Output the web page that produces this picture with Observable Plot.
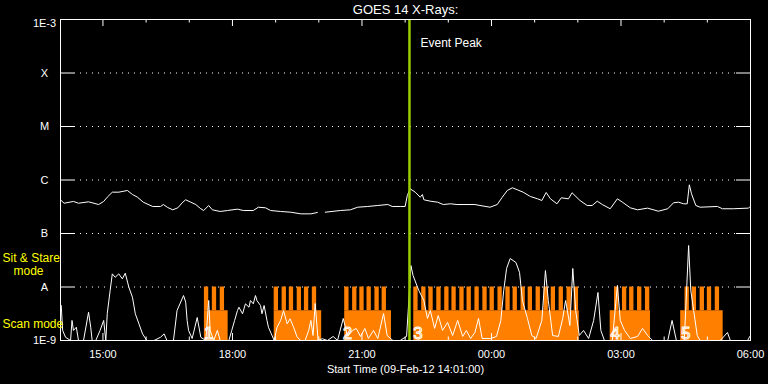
<!DOCTYPE html>
<html><head><meta charset="utf-8">
<script src="https://cdn.jsdelivr.net/npm/d3@7"></script>
<script src="https://cdn.jsdelivr.net/npm/@observablehq/plot@0.6"></script>
<style>html,body{margin:0;padding:0;background:#000;}</style>
</head><body><div id="chart"></div>
<script>
// ---------- data ----------
const title = "GOES 14 X-Rays:";
const caption = "Start Time (09-Feb-12 14:01:00)";
const startTime = "2012-02-09T14:01:00Z";
const endTime = "2012-02-10T06:00:00Z";
const eventPeakTime = "22:06";
const eventLabel = "Event Peak";

const levelValues = [1e-4, 1e-5, 1e-6, 1e-7, 1e-8, 1e-9];
const levelLabels = ["X", "M", "C", "B", "A", "1E-9"];
const topLevelValue = [1e-3];
const topLevelLabel = ["1E-3"];
const gridLevels = [1e-4, 1e-5, 1e-6, 1e-7, 1e-8];

const majorTickTimes = ["15:00", "18:00", "21:00", "00:00", "03:00", "06:00"];
const minorTickTimes = ["16:00", "17:00", "19:00", "20:00", "22:00", "23:00", "01:00", "02:00", "04:00", "05:00"];

// GOES long channel (1-8 A), units of 1e-7 W/m^2 (null = data gap)
const longTimes = [
  "14:02","14:06","14:19","14:26","14:40","14:54",
  "15:01","15:06","15:13","15:22","15:34","15:41","15:48","15:56",
  "16:09","16:20","16:24","16:30","16:37","16:44","16:51","16:55",
  "17:02","17:09","17:16","17:20","17:27","17:32","17:43","17:53",
  "18:07","18:15","18:29","18:36","18:46","18:53",
  "19:07","19:21","19:35","19:49","19:58",
  "20:03","20:09","20:30","20:44","20:54",
  "21:08","21:22","21:36","21:42","21:54",
  "22:00","22:03","22:07","22:14","22:21","22:24","22:26","22:35","22:45","22:53",
  "23:03","23:12","23:26","23:37","23:44","23:58",
  "00:08","00:15","00:22","00:29","00:36","00:44","00:54",
  "01:04","01:10","01:16","01:22","01:31","01:37","01:47","01:52",
  "02:03","02:13","02:20","02:27","02:34","02:45","02:55",
  "03:02","03:13","03:23","03:37","03:52",
  "04:05","04:13","04:20","04:27","04:32","04:35","04:38","04:44","04:50",
  "05:14","05:21","05:36","05:57",
  "06:00"];
const longFlux = [
  4.14,3.68,3.97,3.68,3.91,3.48,
  3.97,4.77,5.92,5.92,6.37,5.36,4.77,3.85,
  3.20,3.20,3.48,3.06,2.77,3.02,3.85,4.27,
  3.85,3.48,2.90,2.69,3.34,2.77,2.58,2.69,
  2.85,2.69,2.69,3.10,3.02,2.69,
  2.58,2.50,2.33,2.33,2.47,
  null,2.50,2.69,2.77,3.10,
  3.20,3.34,3.48,3.20,3.20,
  3.20,5.13,6.85,5.92,4.77,5.36,4.27,4.02,3.85,3.48,
  3.59,3.48,3.48,3.48,3.34,3.10,
  3.48,4.77,6.37,7.15,6.56,5.92,4.92,
  4.45,4.14,5.84,4.45,3.59,4.65,4.45,5.77,
  4.14,3.34,3.34,4.02,3.48,2.90,4.45,
  3.85,3.02,2.77,2.98,2.61,
  2.90,3.75,3.85,3.59,3.59,8.14,5.52,3.34,3.10,
  3.20,2.90,2.90,2.98,
  3.20];

// GOES short channel (0.5-4 A), units of 1e-9 W/m^2
const shortTimes = [
  "14:02","14:04","14:08","14:15","14:17","14:19","14:23","14:26","14:33","14:40","14:43","14:45","14:50","14:56",
  "15:01","15:04","15:06","15:10","15:13","15:17","15:22","15:27","15:31","15:36","15:41","15:45","15:50","15:55",
  "16:01","16:11","16:20","16:25","16:29","16:38","16:43","16:52","16:55","16:57","16:59",
  "17:04","17:11","17:16","17:23","17:27","17:29","17:34","17:39","17:43","17:50","17:55","17:59",
  "18:03","18:07","18:09","18:14","18:18","18:23","18:25","18:29","18:32","18:34","18:39","18:41","18:44","18:48","18:50","18:54","18:58",
  "19:02","19:07","19:11","19:16","19:20","19:25","19:30","19:35","19:41","19:46","19:49","19:52","19:55","19:59",
  "20:05","20:12","20:20","20:26","20:34","20:40","20:47","20:52","20:58",
  "21:04","21:09","21:16","21:22","21:30","21:35","21:43","21:53",
  "22:02","22:06","22:08","22:11","22:19","22:26","22:31","22:35","22:41","22:46","22:52","22:59",
  "23:06","23:13","23:20","23:25","23:31","23:37","23:42","23:47","23:59",
  "00:07","00:13","00:17","00:21","00:26","00:34","00:39","00:43","00:50","00:56",
  "01:02","01:10","01:15","01:19","01:25","01:33","01:39","01:43","01:49","01:53","01:57",
  "02:02","02:08","02:15","02:22","02:28","02:32","02:37","02:48","02:55","02:59",
  "03:05","03:13","03:23","03:30","03:37","03:44",
  "04:05","04:11","04:17","04:28","04:34","04:37","04:41","04:46","04:50",
  "05:04","05:18","05:28","05:32","05:56","05:59"];
const shortFlux = [
  4.51,1.54,1.15,1.0,2.37,1.54,1.77,1.0,1.0,3.38,1.77,1.0,1.0,1.54,
  2.37,1.0,3.20,8.60,17.6,15.2,17.6,14.2,18.1,9.91,6.45,3.16,2.05,1.33,
  1.0,1.0,1.15,1.33,1.0,1.0,3.64,6.93,5.20,2.37,1.54,
  1.09,2.69,1.15,1.0,5.59,1.54,1.0,1.54,1.0,1.0,1.0,1.54,
  2.37,3.64,4.19,3.16,4.85,4.19,5.59,4.85,6.93,5.59,4.51,3.16,4.51,2.37,1.77,1.33,1.0,
  1.77,2.37,3.64,2.05,2.54,1.77,1.15,1.0,1.0,1.54,2.37,1.24,4.92,1.0,
  1.08,1.0,1.19,1.0,2.58,1.19,1.54,1.68,1.19,
  1.68,1.09,1.54,1.09,3.20,1.24,1.0,1.0,
  1.19,8.60,25.2,16.4,8.60,5.59,2.58,3.64,1.68,2.93,1.54,2.17,
  1.24,2.37,1.19,1.54,1.09,1.41,2.58,1.09,1.09,
  1.19,2.37,8.60,22.2,34.1,28.7,18.7,5.59,2.58,1.24,
  1.09,2.37,20.3,5.59,1.24,1.19,2.58,5.59,1.91,22.2,3.64,
  1.24,1.54,1.09,2.37,7.90,1.54,1.0,1.0,10.7,2.37,
  1.54,1.09,1.19,1.68,1.24,1.0,
  1.0,2.37,1.0,1.0,59.7,8.60,3.64,1.24,1.0,
  1.0,1.0,1.41,1.0,1.0,1.19];

// Observation modes (orange): scan blocks and sit & stare intervals
const scanStarts = ["17:21", "18:58", "20:36", "22:12", "02:45", "04:23"];
const scanEnds   = ["17:54", "20:04", "21:41", "02:02", "03:41", "05:22"];
const scanLevel = 3.6e-9;
const sitStareLevel = 1e-8;
const sitStareMinutes = 6;
const sitStareStarts = [
  "17:21","17:32","17:43",
  "18:58","19:09","19:19","19:30","19:40","19:51",
  "20:36","20:47","20:57","21:07","21:18","21:28",
  "22:12","22:23","22:33","22:44","22:55","23:05","23:16","23:26","23:37","23:48","23:58",
  "00:09","00:20","00:30","00:41","00:51","01:02","01:13","01:23","01:34","01:45","01:55",
  "02:51","03:02","03:12","03:23","03:34",
  "04:29","04:39","04:50","05:00","05:11"];
const groupLabels = ["1", "2", "3", "4", "5"];
const groupLabelTimes = ["17:27", "20:40", "22:18", "02:52", "04:30"];

// ---------- helpers ----------
function t(s) {
  const [h, m] = s.split(":").map(Number);
  return new Date(Date.UTC(2012, 1, h >= 14 ? 9 : 10, h, m));
}
const longData = longTimes.map((s, i) => ({time: t(s), flux: longFlux[i] == null ? NaN : longFlux[i] * 1e-7}));
const shortData = shortTimes.map((s, i) => ({time: t(s), flux: shortFlux[i] * 1e-9}));
const scanData = scanStarts.map((s, i) => ({start: t(s), end: t(scanEnds[i])}));
const sitData = sitStareStarts.map(s => ({start: t(s), end: new Date(t(s).getTime() + sitStareMinutes * 60000)}));
const groupData = groupLabels.map((g, i) => ({label: g, time: t(groupLabelTimes[i])}));
const peak = t(eventPeakTime);

const font = "'Liberation Sans', Arial, sans-serif";
const white = "#ffffff";

const chart = Plot.plot({
  width: 768, height: 384,
  marginLeft: 60, marginRight: 18, marginTop: 19, marginBottom: 44,
  style: {background: "#000", color: white, fontFamily: font, fontSize: "11px"},
  x: {type: "utc", domain: [new Date(startTime), new Date(endTime)]},
  y: {type: "log", domain: [1e-9, 1e-3], axis: null},
  marks: [
    // grid: dotted lines with solid tick segments at both ends
    Plot.ruleY(gridLevels, {y: d => d, stroke: white, strokeDasharray: "1,5", insetLeft: 14, insetRight: 14}),
    Plot.ruleY(gridLevels, {y: d => d, stroke: white, insetRight: 676}),
    Plot.ruleY(gridLevels, {y: d => d, stroke: white, insetLeft: 676}),
    // observation modes
    Plot.rect(scanData, {x1: "start", x2: "end", y1: () => 1e-9, y2: () => scanLevel, fill: "#ff8000"}),
    Plot.rect(sitData, {x1: "start", x2: "end", y1: () => scanLevel, y2: () => sitStareLevel, fill: "#ff8000"}),
    // GOES curves
    Plot.line(shortData, {x: "time", y: "flux", stroke: white, strokeWidth: 1, clip: true}),
    Plot.line(longData, {x: "time", y: "flux", stroke: white, strokeWidth: 1, clip: true}),
    // group number labels (outlined)
    Plot.text(groupData, {x: "time", text: "label", frameAnchor: "bottom", lineAnchor: "middle", dy: -7, fill: "none", stroke: white, strokeWidth: 1, fontSize: 17, fontFamily: font}),
    // event peak
    Plot.ruleX([peak], {x: d => d, stroke: "#9acd00", strokeWidth: 2.5}),
    Plot.text([eventLabel], {x: () => peak, text: d => d, frameAnchor: "top", lineAnchor: "middle", dx: 11, dy: 24, textAnchor: "start", fill: white, fontSize: 12, fontFamily: font}),
    // time ticks on top and bottom edges
    Plot.ruleX(majorTickTimes.map(t), {x: d => d, stroke: white, insetBottom: 314}),
    Plot.ruleX(majorTickTimes.map(t), {x: d => d, stroke: white, insetTop: 314}),
    Plot.ruleX(minorTickTimes.map(t), {x: d => d, stroke: white, insetBottom: 317.5}),
    Plot.ruleX(minorTickTimes.map(t), {x: d => d, stroke: white, insetTop: 317.5}),
    Plot.frame({stroke: white}),
    Plot.axisX({ticks: majorTickTimes.map(t), tickFormat: d3.utcFormat("%H:%M"), tickSize: 0, tickPadding: 10, label: null, fontSize: 11, fill: white}),
    // y level labels
    Plot.text(levelLabels, {y: (d, i) => levelValues[i], text: d => d, frameAnchor: "left", lineAnchor: "middle", dx: -16, textAnchor: "middle", fill: white, fontSize: 11, fontFamily: font}),
    Plot.text(topLevelLabel, {y: (d, i) => topLevelValue[i], text: d => d, frameAnchor: "left", lineAnchor: "top", dx: -16, dy: 0, textAnchor: "middle", fill: white, fontSize: 11, fontFamily: font}),
    // mode labels (yellow)
    Plot.text(["Sit & Stare"], {text: d => d, frameAnchor: "bottom-left", lineAnchor: "middle", dx: -58, dy: -82, textAnchor: "start", fill: "#ffff00", fontSize: 12, fontFamily: font}),
    Plot.text(["mode"], {text: d => d, frameAnchor: "bottom-left", lineAnchor: "middle", dx: -47, dy: -69, textAnchor: "start", fill: "#ffff00", fontSize: 12, fontFamily: font}),
    Plot.text(["Scan mode"], {text: d => d, frameAnchor: "bottom-left", lineAnchor: "middle", dx: -58, dy: -16, textAnchor: "start", fill: "#ffff00", fontSize: 12, fontFamily: font}),
    // title and caption
    Plot.text([title], {text: d => d, frameAnchor: "top", lineAnchor: "middle", dy: -10, fill: white, fontSize: 13, fontFamily: font}),
    Plot.text([caption], {text: d => d, frameAnchor: "bottom", lineAnchor: "middle", dy: 29, fill: white, fontSize: 11, fontFamily: font})
  ]
});
document.getElementById("chart").appendChild(chart);
</script>
</body></html>
